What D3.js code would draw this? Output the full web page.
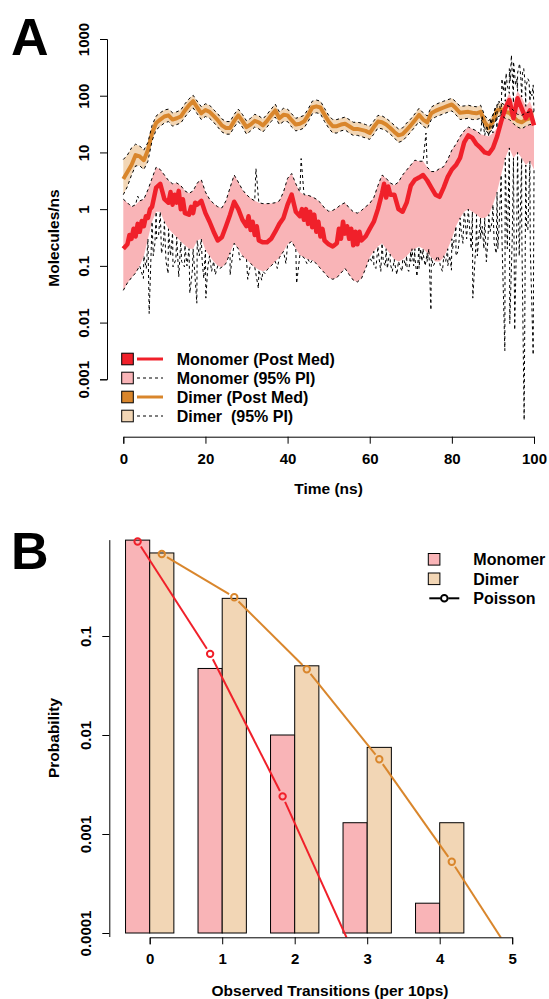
<!DOCTYPE html>
<html>
<head>
<meta charset="utf-8">
<script src="https://cdn.jsdelivr.net/npm/d3@7/dist/d3.min.js"></script>
<style>
body{margin:0;background:#fff;}
svg text{font-family:"Liberation Sans",Arial,Helvetica,sans-serif;font-weight:bold;}
</style>
</head>
<body>
<script>
// ---- panel A data (read per ns, 0..100) ----
var time = d3.range(0, 101);

var dimerMed = [3.4,4.5,6,9,8.5,7.3,11,22,33,38,
  43,45,38,40,43,55,68,80,62,49,
  56,52,44,37,30,27,27,36,45,36,
  28,31,36,34,30,36,45,55,40,46,
  45,37,31,32,35,45,62,65,62,46,
  35,29,29,31,32,29,26,26,25,24,
  22,28,35,34,31,27,23,20,21,25,
  30,37,46,38,34,49,54,58,62,66,
  70,60,50,51,52,50,49,52,34,27,
  35,55,58,52,50,42,36,34,38,40,
  40];
var dimerHi = [7.5,9,12,14,13,11,15,30,44,50,
  56,58,50,52,56,72,88,102,80,64,
  72,68,57,48,39,35,35,47,58,47,
  36,40,47,44,39,47,58,71,52,60,
  58,48,40,42,45,58,80,84,80,60,
  45,38,38,40,42,38,34,34,33,31,
  29,36,45,44,40,35,30,26,27,33,
  39,48,60,50,44,63,70,75,80,85,
  90,78,65,66,68,65,64,68,45,36,
  46,70,75,68,65,55,47,45,50,52,
  52];
var dimerLo = [1.8,2.5,4,5.8,5.8,5,7,16,25,29,
  33,35,29,31,33,42,52,61,48,38,
  43,40,34,28,23,21,21,28,35,28,
  21,24,28,26,23,28,35,42,31,35,
  35,28,24,25,27,35,48,50,48,35,
  27,22,22,24,25,22,20,20,19,18,
  17,21,27,26,24,21,18,15,16,19,
  23,28,35,29,26,38,42,45,48,51,
  54,46,38,39,40,38,38,40,26,21,
  27,42,45,40,38,32,28,26,29,31,
  31];

var monoMed = [0.2,0.24,0.3,0.33,0.4,0.5,0.7,1.1,2.4,2.8,
  1.5,1.3,1.2,1.3,1.0,0.85,0.8,0.85,1.2,1.4,
  0.85,0.6,0.4,0.28,0.32,0.5,0.8,1.35,1.0,0.65,
  0.5,0.43,0.35,0.28,0.26,0.26,0.3,0.4,0.55,0.7,
  1.2,1.8,0.9,0.75,0.65,0.55,0.48,0.4,0.33,0.28,
  0.24,0.22,0.25,0.3,0.37,0.3,0.23,0.24,0.28,0.33,
  0.45,0.6,1.0,1.9,1.6,1.8,1.8,1.0,0.9,1.3,
  2.6,3.3,3.6,4.0,3.2,2.4,1.8,1.65,2.4,3.7,
  5,6,8,15,20,18,14,12,10,9.5,
  12,19,35,60,84,40,90,60,40,55,
  30];
var monoHi = [1.5,1.3,1.1,1.2,1.4,1.5,2.2,3.5,5.5,5.0,
  4.0,3.2,2.8,2.9,2.6,2.1,1.9,2.1,2.9,3.3,
  2.0,1.5,1.25,1.1,1.05,1.4,2.4,4.0,3.0,2.2,
  1.8,1.55,1.4,1.3,1.25,1.25,1.26,1.3,1.4,2.0,
  3.5,4.25,2.8,2.0,1.8,1.75,1.65,1.5,1.3,1.05,
  0.92,0.95,1.05,1.2,1.3,1.05,0.9,0.85,0.95,1.1,
  1.26,1.6,2.6,4.0,3.5,2.9,2.65,3.0,4.0,4.9,
  6.0,7.3,7.0,7.0,5.5,4.6,4.6,5.2,5.6,7.5,
  11,14,19,24,28,26,24,21,20,19,
  22,27,45,80,110,75,120,95,65,80,
  50];
var monoLo = [0.037,0.05,0.062,0.075,0.1,0.15,0.3,0.6,0.9,0.9,
  0.6,0.45,0.38,0.32,0.27,0.23,0.2,0.2,0.28,0.3,
  0.19,0.15,0.12,0.1,0.095,0.11,0.17,0.25,0.2,0.15,
  0.13,0.11,0.095,0.085,0.08,0.085,0.1,0.12,0.14,0.18,
  0.24,0.27,0.2,0.155,0.14,0.13,0.125,0.11,0.09,0.075,
  0.062,0.058,0.062,0.075,0.09,0.07,0.056,0.052,0.06,0.09,
  0.14,0.18,0.22,0.25,0.2,0.16,0.13,0.12,0.13,0.15,
  0.18,0.2,0.22,0.2,0.17,0.14,0.12,0.12,0.14,0.2,
  0.3,0.5,0.7,0.9,1.0,0.9,0.8,0.7,0.7,0.8,
  1.2,2.0,4,8,12,8,10,8,6,7,
  5];

// jagged bits of the monomer median and the spikes of the 95% PI dashed lines
var monoMedJags = [[1.5,0.35],[2.5,0.45],[3.5,0.55],[4.5,0.62],[5.5,0.75],[6.5,1.0],
  [11.5,2.0],[12.5,1.8],[13.5,2.1],[14.5,1.5],[16.5,1.1],[17.5,1.3],
  [30.5,0.75],[31.5,0.6],[32.5,0.5],[43.5,1.0],[44.5,1.0],[45.5,0.9],[46.5,0.8],
  [47.5,0.6],[48.5,0.45],[52.5,0.45],[53.5,0.6],[54.5,0.5],[55.5,0.45],[56.5,0.4],
  [57.5,0.4],[63.5,2.8],[64.5,2.5]];
var monoHiSpikes = [[3.5,1.7],[32.3,5.2],[43.3,7.8],[73.7,22],[87.4,45],[88.5,30],[89.5,40],
  [90,45],[90.5,60],[91,70],[91.5,80],[92.2,200],[92.5,120],[92.9,188],[93.2,250],[93.5,150],
  [94,300],[94.2,180],[94.5,520],[95,400],[95.2,300],[95.5,150],[95.8,200],[96,250],[96.5,370],
  [96.8,200],[97.2,250],[97.5,300],[97.8,180],[98,140],[98.5,200],[98.8,180],[99.2,120],
  [99.5,100],[99.8,155]];
var monoLoSpikes = [[4.9,0.06],[5.6,0.09],[6.3,0.0145],[6.8,0.2],[7.3,0.15],[7.7,0.25],[8.1,0.3],
  [8.6,0.35],[9.3,0.165],[9.8,0.25],[10.4,0.12],[10.9,0.073],[11.5,0.15],[12.1,0.096],[12.8,0.13],
  [13.5,0.064],[14.2,0.12],[14.9,0.096],[15.5,0.1],[16.2,0.033],[16.8,0.08],[17.9,0.022],
  [18.5,0.15],[19.2,0.12],[19.6,0.06],[20.1,0.027],[20.6,0.1],[21.5,0.08],[22.4,0.07],[23.5,0.09],
  [26,0.069],[28.4,0.126],[30.3,0.058],[32.9,0.04],[33.7,0.056],[34.5,0.073],
  [37.5,0.09],[39.6,0.11],[42.2,0.049],[44.7,0.11],[45.5,0.11],[60.5,0.12],[61,0.1],[61.5,0.09],
  [62.2,0.15],[62.7,0.08],[63.3,0.12],[63.8,0.1],[64.3,0.09],[64.7,0.15],[65,0.11],[65.5,0.08],
  [66,0.12],[66.6,0.07],[67.4,0.096],[67.9,0.08],[68.3,0.13],[68.7,0.1],[69.1,0.09],[69.5,0.08],
  [70,0.12],[70.3,0.2],[70.7,0.1],[71,0.14],[71.5,0.065],[72,0.09],[72.4,0.2],[72.7,0.12],
  [73.1,0.15],[73.5,0.1],[74,0.12],[74.4,0.2],[74.9,0.0166],[75.5,0.1],[76,0.12],[76.5,0.15],
  [77.2,0.1],[77.7,0.08],[78,0.15],[78.5,0.12],[79,0.1],[79.5,0.15],[79.9,0.084],[80.2,0.2],
  [80.6,0.3],[81,0.15],[81.5,0.18],[81.8,0.3],[82.3,0.4],[82.7,0.25],[83.1,0.84],[83.6,0.3],
  [84.3,0.5],[84.7,0.2],[85.1,0.027],[85.9,0.28],[86.2,0.15],[86.6,0.35],[87,0.3],[87.4,0.5],
  [87.8,0.2],[88.4,0.118],[88.8,0.3],[89.3,0.4],[89.8,0.6],[90.3,0.25],[90.8,0.165],[91.2,0.2],
  [91.5,0.5],[92.2,0.3],[92.9,0.0032],[93.5,0.2],[94.1,0.0096],[94.7,0.3],[95.3,0.0074],
  [95.8,0.5],[96.4,0.15],[97,0.6],[97.6,0.00019],[98.2,0.5],[98.5,0.43],[99.1,0.2],[99.8,0.0027]];

var timeTicks = [0,20,40,60,80,100];
var molTicks = [0.001,0.01,0.1,1,10,100,1000];
var molTickLabels = ["0.001","0.01","0.1","1","10","100","1000"];
var legendALabels = ["Monomer (Post Med)","Monomer (95% PI)","Dimer (Post Med)","Dimer  (95% PI)"];

// ---- panel B data ----
var transitions = [0,1,2,3,4,5];
var monomerProb = [0.93,0.047,0.01,0.0013,0.0002,null];
var dimerProb = [0.69,0.24,0.05,0.0075,0.0013,0.0001];
var poissonMonomer = [0.90,0.066,0.0024,0.000058];
var poissonDimer = [0.673,0.246,0.0462,0.00569,0.000525,0.0000387];
var probTicks = [0.0001,0.001,0.01,0.1];
var probTickLabels = ["0.0001","0.001","0.01","0.1"];
var legendBLabels = ["Monomer","Dimer","Poisson"];

// colours
var red = "#f0202a", pink = "#f9b4b7", orange = "#d9862c", tan = "#f2d6b5";

var svg = d3.select('body').append('svg')
    .attr('width', 549)
    .attr('height', 999);

// ================= panel A =================
var xA = d3.scaleLinear().domain([0,100]).range([123.3,534]);
var yA = d3.scaleLog().domain([0.001,1000]).range([379.3,39]);

svg.append('clipPath').attr('id','clipA')
    .append('rect').attr('x',107).attr('y',0).attr('width',442).attr('height',437);
var plotA = svg.append('g').attr('clip-path','url(#clipA)');

function pts(vals){ return vals.map(function(v,i){ return [time[i], v]; }); }
function withSpikes(vals, spikes){
    return pts(vals).concat(spikes).sort(function(a,b){ return a[0]-b[0]; });
}
var lineA = d3.line()
    .x(function(d){ return xA(d[0]); })
    .y(function(d){ return yA(d[1]); });
function band(lo, hi){
    return d3.area()
        .x(function(d,i){ return xA(time[i]); })
        .y0(function(d,i){ return yA(lo[i]); })
        .y1(function(d,i){ return yA(hi[i]); })(time);
}

plotA.append('path').attr('d', band(monoLo, monoHi)).attr('fill', pink);
plotA.append('path').attr('d', band(dimerLo, dimerHi)).attr('fill', tan);

plotA.append('path').attr('d', lineA(pts(dimerMed)))
    .attr('fill','none').attr('stroke',orange).attr('stroke-width',4).attr('stroke-linejoin','round');
plotA.append('path').attr('d', lineA(withSpikes(monoMed, monoMedJags)))
    .attr('fill','none').attr('stroke',red).attr('stroke-width',4.5).attr('stroke-linejoin','round');

var dashed = [withSpikes(monoHi, monoHiSpikes), withSpikes(monoLo, monoLoSpikes), pts(dimerHi), pts(dimerLo)];
plotA.selectAll('path.pi').data(dashed).enter().append('path')
    .attr('class','pi')
    .attr('d', lineA)
    .attr('fill','none').attr('stroke','#000').attr('stroke-width',1)
    .attr('stroke-dasharray','3,3');

// axes A
var yAxisA = svg.append('g').attr('transform','translate(107,0)')
    .call(d3.axisLeft(yA).tickValues(molTicks).tickSizeOuter(0).tickSize(7)
        .tickFormat(function(d,i){ return molTickLabels[i]; }));
var xAxisA = svg.append('g').attr('transform','translate(0,436.7)')
    .call(d3.axisBottom(xA).tickValues(timeTicks).tickSizeOuter(0).tickSize(7).tickPadding(9.5));

// ================= panel B =================
var xB = d3.scaleLinear().domain([0,5]).range([149.7,512.2]);
var yB = d3.scaleLog().domain([0.0001,1]).range([933,537]);
var barW = (xB(1) - xB(0)) / 3;

svg.append('clipPath').attr('id','clipB')
    .append('rect').attr('x',109.3).attr('y',500).attr('width',440).attr('height',437.3);
var plotB = svg.append('g').attr('clip-path','url(#clipB)');

plotB.selectAll('rect.mono').data(transitions.filter(function(i){ return monomerProb[i] != null; }))
    .enter().append('rect').attr('class','mono')
    .attr('x', function(i){ return xB(i) - barW; })
    .attr('y', function(i){ return yB(monomerProb[i]); })
    .attr('width', barW)
    .attr('height', function(i){ return yB(0.0001) - yB(monomerProb[i]); })
    .attr('fill', pink).attr('stroke','#000').attr('stroke-width',1);
plotB.selectAll('rect.dim').data(transitions)
    .enter().append('rect').attr('class','dim')
    .attr('x', function(i){ return xB(i); })
    .attr('y', function(i){ return yB(dimerProb[i]); })
    .attr('width', barW)
    .attr('height', function(i){ return yB(0.0001) - yB(dimerProb[i]); })
    .attr('fill', tan).attr('stroke','#000').attr('stroke-width',1);

// poisson curves, R type="b": line segments stop short of the open points
function poissonLayer(vals, offset, col){
    var p = vals.map(function(v,i){ return [xB(transitions[i]) + offset, yB(v)]; });
    var gap = 6;
    for (var i = 0; i < p.length - 1; i++) {
        var dx = p[i+1][0]-p[i][0], dy = p[i+1][1]-p[i][1];
        var len = Math.sqrt(dx*dx+dy*dy);
        plotB.append('line')
            .attr('x1', p[i][0] + dx/len*gap).attr('y1', p[i][1] + dy/len*gap)
            .attr('x2', p[i+1][0] - dx/len*gap).attr('y2', p[i+1][1] - dy/len*gap)
            .attr('stroke', col).attr('stroke-width', 2);
    }
    plotB.selectAll(null).data(p).enter().append('circle')
        .attr('cx', function(d){ return d[0]; })
        .attr('cy', function(d){ return d[1]; })
        .attr('r', 3.2)
        .attr('fill','none').attr('stroke', col).attr('stroke-width', 2);
}
poissonLayer(poissonMonomer, -barW/2, red);
poissonLayer(poissonDimer, barW/2, orange);

// axes B
var yAxisB = svg.append('g').attr('transform','translate(109.3,0)')
    .call(d3.axisLeft(yB).tickValues(probTicks).tickSizeOuter(0).tickSize(7)
        .tickFormat(function(d,i){ return probTickLabels[i]; }));
yAxisB.select('.domain').remove();
yAxisB.append('line').attr('x1',0.5).attr('x2',0.5)
    .attr('y1', yB(monomerProb[0])).attr('y2', 937)
    .attr('stroke','#000');
var xAxisB = svg.append('g').attr('transform','translate(0,937.3)')
    .call(d3.axisBottom(xB).tickValues(transitions).tickFormat(d3.format('d'))
        .tickSizeOuter(0).tickSize(7).tickPadding(9.5));

// shared axis styling
[yAxisA, xAxisA, yAxisB, xAxisB].forEach(function(g){
    g.attr('font-size', 15).attr('font-family', null);
    g.selectAll('text').attr('fill','#000');
    g.selectAll('line,path').attr('stroke','#000');
});
[yAxisA, yAxisB].forEach(function(g){
    g.selectAll('.tick text')
        .attr('transform','rotate(-90)')
        .attr('x',0).attr('y',-18).attr('dy',0)
        .attr('text-anchor','middle');
});

// axis titles
svg.append('text').attr('x',328.5).attr('y',494).attr('text-anchor','middle')
    .attr('font-size',15.5).text('Time (ns)');
svg.append('text').attr('transform','translate(59,238) rotate(-90)').attr('text-anchor','middle')
    .attr('font-size',15.5).text('Molecules/ns');
svg.append('text').attr('x',330).attr('y',996).attr('text-anchor','middle')
    .attr('font-size',15.5).text('Observed Transitions (per 10ps)');
svg.append('text').attr('transform','translate(59,738) rotate(-90)').attr('text-anchor','middle')
    .attr('font-size',15.5).text('Probability');

// panel letters
svg.append('text').attr('x',11).attr('y',55).attr('font-size',52).text('A');
svg.append('text').attr('x',11).attr('y',569).attr('font-size',52).text('B');

// legend A
var legAFill = [red, pink, orange, tan];
var legALine = [red, '#000', orange, '#000'];
var legADash = [null, '3,3', null, '3,3'];
var legAWidth = [3, 1, 3, 1];
var legA = svg.append('g');
var rowA = legA.selectAll('g').data(legendALabels).enter().append('g')
    .attr('transform', function(d,i){ return 'translate(0,' + (359 + i*19) + ')'; });
rowA.append('rect').attr('x',121.7).attr('y',-5.8).attr('width',11.6).attr('height',11.6)
    .attr('fill', function(d,i){ return legAFill[i]; }).attr('stroke','#000');
rowA.append('line').attr('x1',137).attr('x2',163).attr('y1',0).attr('y2',0)
    .attr('stroke', function(d,i){ return legALine[i]; })
    .attr('stroke-width', function(d,i){ return legAWidth[i]; })
    .attr('stroke-dasharray', function(d,i){ return legADash[i]; });
rowA.append('text').attr('x',176.7).attr('y',5.7).attr('font-size',16)
    .style('white-space','pre').text(function(d){ return d; });

// legend B
var legB = svg.append('g');
var rowB = legB.selectAll('g').data(legendBLabels).enter().append('g')
    .attr('transform', function(d,i){ return 'translate(0,' + (559.3 + i*19.5) + ')'; });
rowB.append('text').attr('x',473.3).attr('y',5.7).attr('font-size',16).text(function(d){ return d; });
rowB.filter(function(d,i){ return i < 2; }).append('rect')
    .attr('x',428.3).attr('y',-5.8).attr('width',11.6).attr('height',11.6)
    .attr('fill', function(d,i){ return [pink, tan][i]; }).attr('stroke','#000');
var pois = rowB.filter(function(d,i){ return i === 2; });
pois.append('line').attr('x1',429.3).attr('x2',440.3).attr('stroke','#000').attr('stroke-width',2);
pois.append('line').attr('x1',448.3).attr('x2',459.3).attr('stroke','#000').attr('stroke-width',2);
pois.append('circle').attr('cx',444.3).attr('cy',0).attr('r',3.3)
    .attr('fill','none').attr('stroke','#000').attr('stroke-width',2);
</script>
</body>
</html>
